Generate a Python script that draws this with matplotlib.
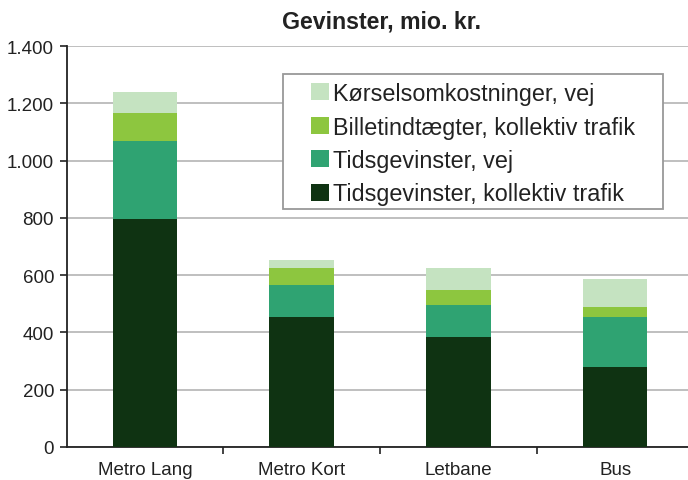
import matplotlib
matplotlib.use("Agg")
import matplotlib.pyplot as plt
from matplotlib.ticker import FuncFormatter, FixedLocator
from matplotlib.patches import Patch, Rectangle

plt.rcParams['font.family'] = ['Liberation Sans', 'DejaVu Sans']

categories = ["Metro Lang", "Metro Kort", "Letbane", "Bus"]
series_names = ["Tidsgevinster, kollektiv trafik", "Tidsgevinster, vej",
                "Billetindtægter, kollektiv trafik", "Kørselsomkostninger, vej"]
tids_kollektiv = [795, 455, 383, 278]
tids_vej = [273, 111, 112, 177]
billet = [98, 58, 52, 33]
koersel = [74, 28, 77, 98]
colors = ["#0f3312", "#2fa372", "#8dc63f", "#c5e3c1"]
yticks = [0, 200, 400, 600, 800, 1000, 1200, 1400]
title = "Gevinster, mio. kr."

W, H = 688, 481
fig = plt.figure(figsize=(W / 100, H / 100), dpi=100)
left, right, bottom, top = 66.5, 693.5, 448, 47
ax = fig.add_axes([left / W, (H - bottom) / H, (right - left) / W, (bottom - top) / H])

series = [tids_kollektiv, tids_vej, billet, koersel]
x = list(range(len(categories)))
base = [0] * len(categories)
for vals, c, name in zip(series, colors, series_names):
    ax.bar(x, vals, width=0.41, bottom=base, color=c, label=name, zorder=3)
    base = [b + v for b, v in zip(base, vals)]

ax.set_xlim(-0.5, len(categories) - 0.5)
ax.set_ylim(0, 1400)
ax.set_yticks(yticks)
ax.yaxis.set_major_formatter(FuncFormatter(lambda v, p: f"{int(v):,}".replace(",", ".")))
ax.set_xticks(x)
ax.set_xticklabels(categories)
ax.xaxis.set_minor_locator(FixedLocator([0.5, 1.5, 2.5]))
ax.tick_params(axis='x', which='major', length=0, pad=10, labelsize=13.5, colors='#222222')
ax.tick_params(axis='x', which='minor', length=5, width=1.2, direction='out', color='#222222')
ax.tick_params(axis='y', length=5, width=1.2, direction='out', labelsize=13.5, pad=4, colors='#222222')
ax.grid(axis='y', color='#b4b4b4', linewidth=1.2, zorder=0)
for s in ['top', 'right']:
    ax.spines[s].set_visible(False)
for s in ['left', 'bottom']:
    ax.spines[s].set_color('#222222')
    ax.spines[s].set_linewidth(1.3)

fig.text(381 / W, 1 - 22 / H, title, ha='center', va='center', fontsize=16.7, fontweight='bold', color='#222222')

# legend box
fig.patches.append(Rectangle((283 / W, 1 - 210 / H), (663 - 283) / W, (210 - 75) / H,
                             transform=fig.transFigure, facecolor='white', edgecolor='#999999',
                             linewidth=1.3, zorder=5))
handles = [Patch(facecolor=c, edgecolor='none') for c in colors][::-1]
labels = series_names[::-1]
leg = fig.legend(handles, labels, loc='upper left', bbox_to_anchor=(311 / W, 1 - 83 / H),
                 frameon=False, fontsize=16.8, handlelength=0.75, handleheight=0.75,
                 handletextpad=0.2, borderpad=0, labelspacing=0.45, borderaxespad=0)
leg.set_zorder(6)
for t in leg.get_texts():
    t.set_color('#222222')

fig.savefig("out.png", dpi=100)
